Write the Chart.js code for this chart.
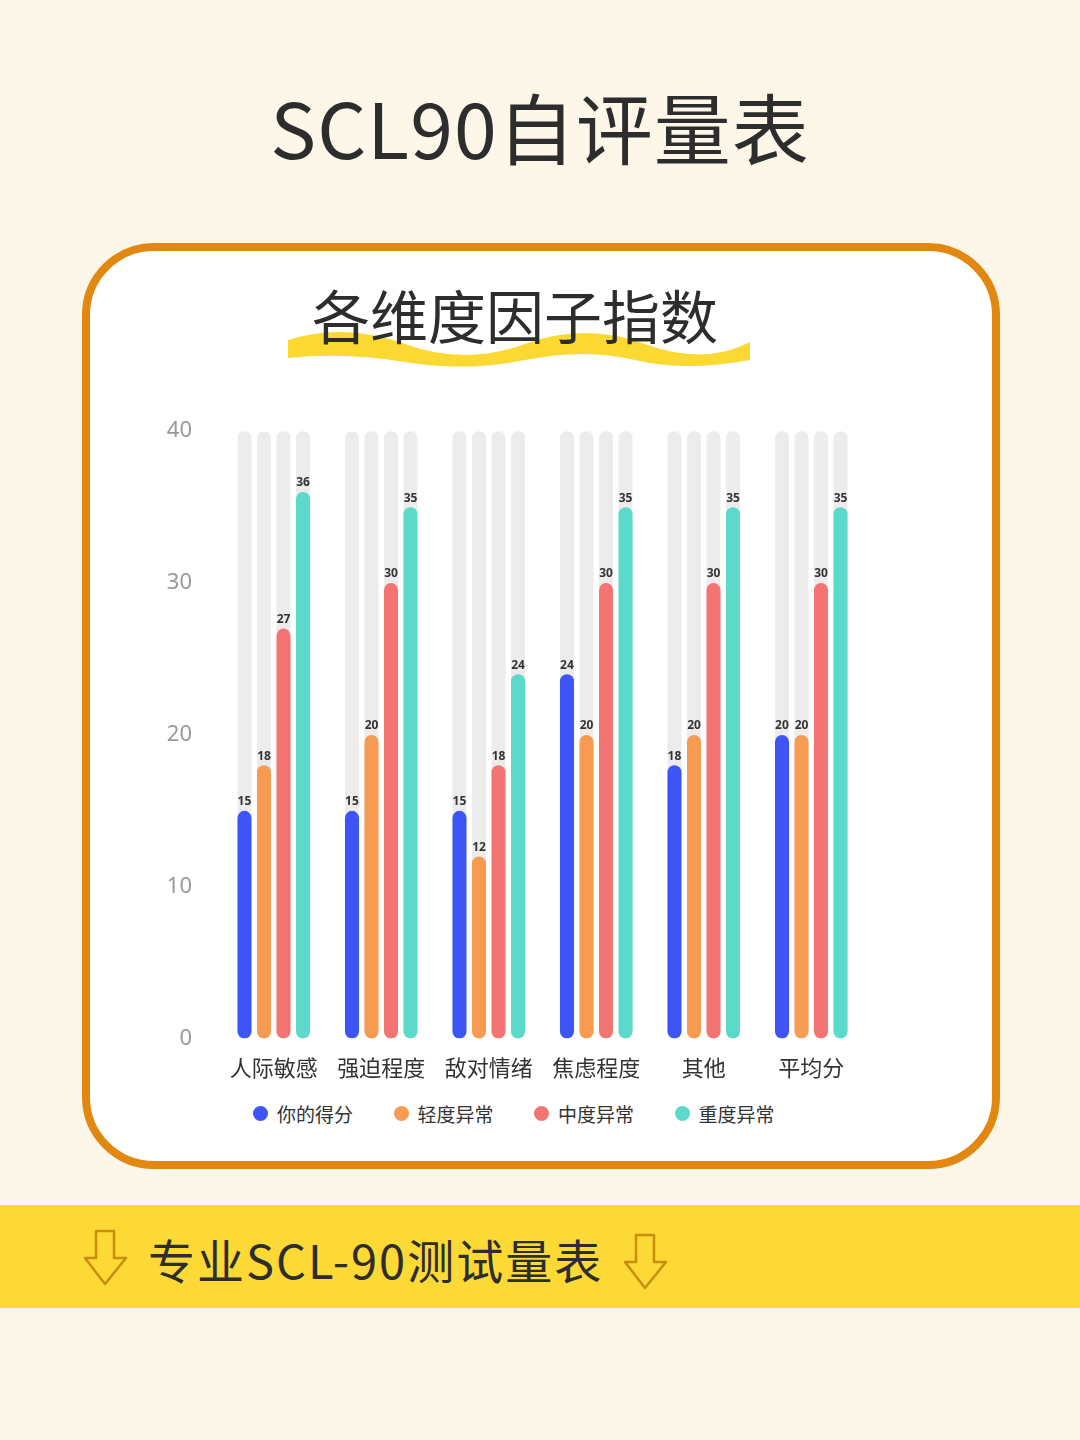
<!DOCTYPE html>
<html><head><meta charset="utf-8">
<script src="https://cdn.jsdelivr.net/npm/chart.js@4"></script>
<style>
body{margin:0;width:1080px;height:1440px;background:#fdf7ea;position:relative;overflow:hidden;font-family:"Noto Sans CJK SC","Noto Sans",sans-serif;}
#t{position:absolute;top:70px;width:100%;text-align:center;font-size:77px;color:#2d2d2d;letter-spacing:1px;}
#card{position:absolute;left:82px;top:243px;width:902px;height:910px;border:8px solid #e2870f;border-radius:72px;background:#fff;}
#sub{position:absolute;top:272px;left:-25px;width:100%;text-align:center;font-size:58px;color:#2d2d2d;z-index:2;}
#wave{position:absolute;left:285px;top:322px;z-index:1;}
#band{position:absolute;left:0;top:1205px;width:1080px;height:103px;background:#fcd934;}
#bt{position:absolute;left:148px;top:1224px;font-size:47px;color:#2d2d2d;letter-spacing:2px;}
canvas#c{position:absolute;left:140px;top:398px;}
#legend{position:absolute;top:1100px;left:0;width:100%;font-size:19px;color:#333;}
#legend span{position:absolute;display:flex;align-items:center;gap:9px;}
#legend i{display:inline-block;width:15px;height:15px;border-radius:50%;}
</style></head><body>
<div id="t">SCL90自评量表</div>
<div id="card"></div>
<svg id="wave" width="470" height="50"><path d="M3 18 Q60 0 120 22 T240 22 T360 22 T465 20 L465 38 Q400 50 350 38 T240 38 T120 40 T3 36 Z" fill="#fbd832"/></svg>
<div id="sub">各维度因子指数</div>
<canvas id="c" width="725" height="691"></canvas>
<div id="legend"></div>
<div id="band"></div>
<svg style="position:absolute;left:82px;top:1228px" width="48" height="60"><path d="M14 3 H32 V30 H44 L23 56 L3 30 H14 Z" fill="#fcd934" stroke="#c98e10" stroke-width="2.5" stroke-linejoin="round"/></svg>
<svg style="position:absolute;left:622px;top:1232px" width="48" height="60"><path d="M14 3 H32 V30 H44 L23 56 L3 30 H14 Z" fill="#fcd934" stroke="#c98e10" stroke-width="2.5" stroke-linejoin="round"/></svg>
<div id="bt">专业SCL-90测试量表</div>
<script>
const categories=["人际敏感","强迫程度","敌对情绪","焦虑程度","其他","平均分"];
const seriesNames=["你的得分","轻度异常","中度异常","重度异常"];
const yourScore=[15,15,15,24,18,20];
const mild=[18,20,12,20,20,20];
const moderate=[27,30,18,30,30,30];
const severe=[36,35,24,35,35,35];
const colors=["#3d55f4","#f89b52","#f47474","#5bd9c9"];
const yTicks=[0,10,20,30,40];
const vals=[yourScore,mild,moderate,severe];
const lg=document.getElementById('legend');
seriesNames.forEach((n,i)=>{const s=document.createElement('span');s.style.left=(253+i*140.5)+'px';s.innerHTML='<i style="background:'+colors[i]+'"></i>'+n;lg.appendChild(s);});
const bgPlugin={id:'bg',beforeDatasetsDraw(ch){const ctx=ch.ctx,y=ch.scales.y;ctx.save();ctx.fillStyle="#ececec";
 ch.data.datasets.forEach((d,i)=>{ch.getDatasetMeta(i).data.forEach(b=>{const w=b.width,x=b.x-w/2,t=y.getPixelForValue(40),bo=y.getPixelForValue(0);ctx.beginPath();ctx.roundRect(x,t,w,bo-t,7);ctx.fill();});});ctx.restore();},
 afterDatasetsDraw(ch){const ctx=ch.ctx;ctx.save();ctx.font="bold 12px 'Noto Sans',sans-serif";ctx.fillStyle="#333";ctx.textAlign="center";ctx.textBaseline="bottom";
 ch.data.datasets.forEach((d,i)=>{ch.getDatasetMeta(i).data.forEach((b,j)=>{ctx.fillText(d.data[j],b.x,b.y-3);});});ctx.restore();}};
new Chart(document.getElementById('c'),{type:'bar',
data:{labels:categories,datasets:seriesNames.map((n,i)=>({label:n,data:vals[i],backgroundColor:colors[i],borderRadius:7,borderSkipped:false,categoryPercentage:0.726,barPercentage:0.72}))},
options:{responsive:false,animation:false,layout:{padding:{top:21,right:0}},
plugins:{legend:{display:false},tooltip:{enabled:false}},
scales:{x:{grid:{display:false},border:{display:false},ticks:{color:'#333',font:{size:22,family:"'Noto Sans CJK SC'"},padding:8}},
y:{min:0,max:40,afterFit:s=>{s.width=80},afterBuildTicks:s=>{s.ticks=yTicks.map(v=>({value:v}))},grid:{display:false},border:{display:false},ticks:{color:'#999',font:{size:22,family:"'Noto Sans'"},padding:20}}}},
plugins:[bgPlugin]});
</script></body></html>
